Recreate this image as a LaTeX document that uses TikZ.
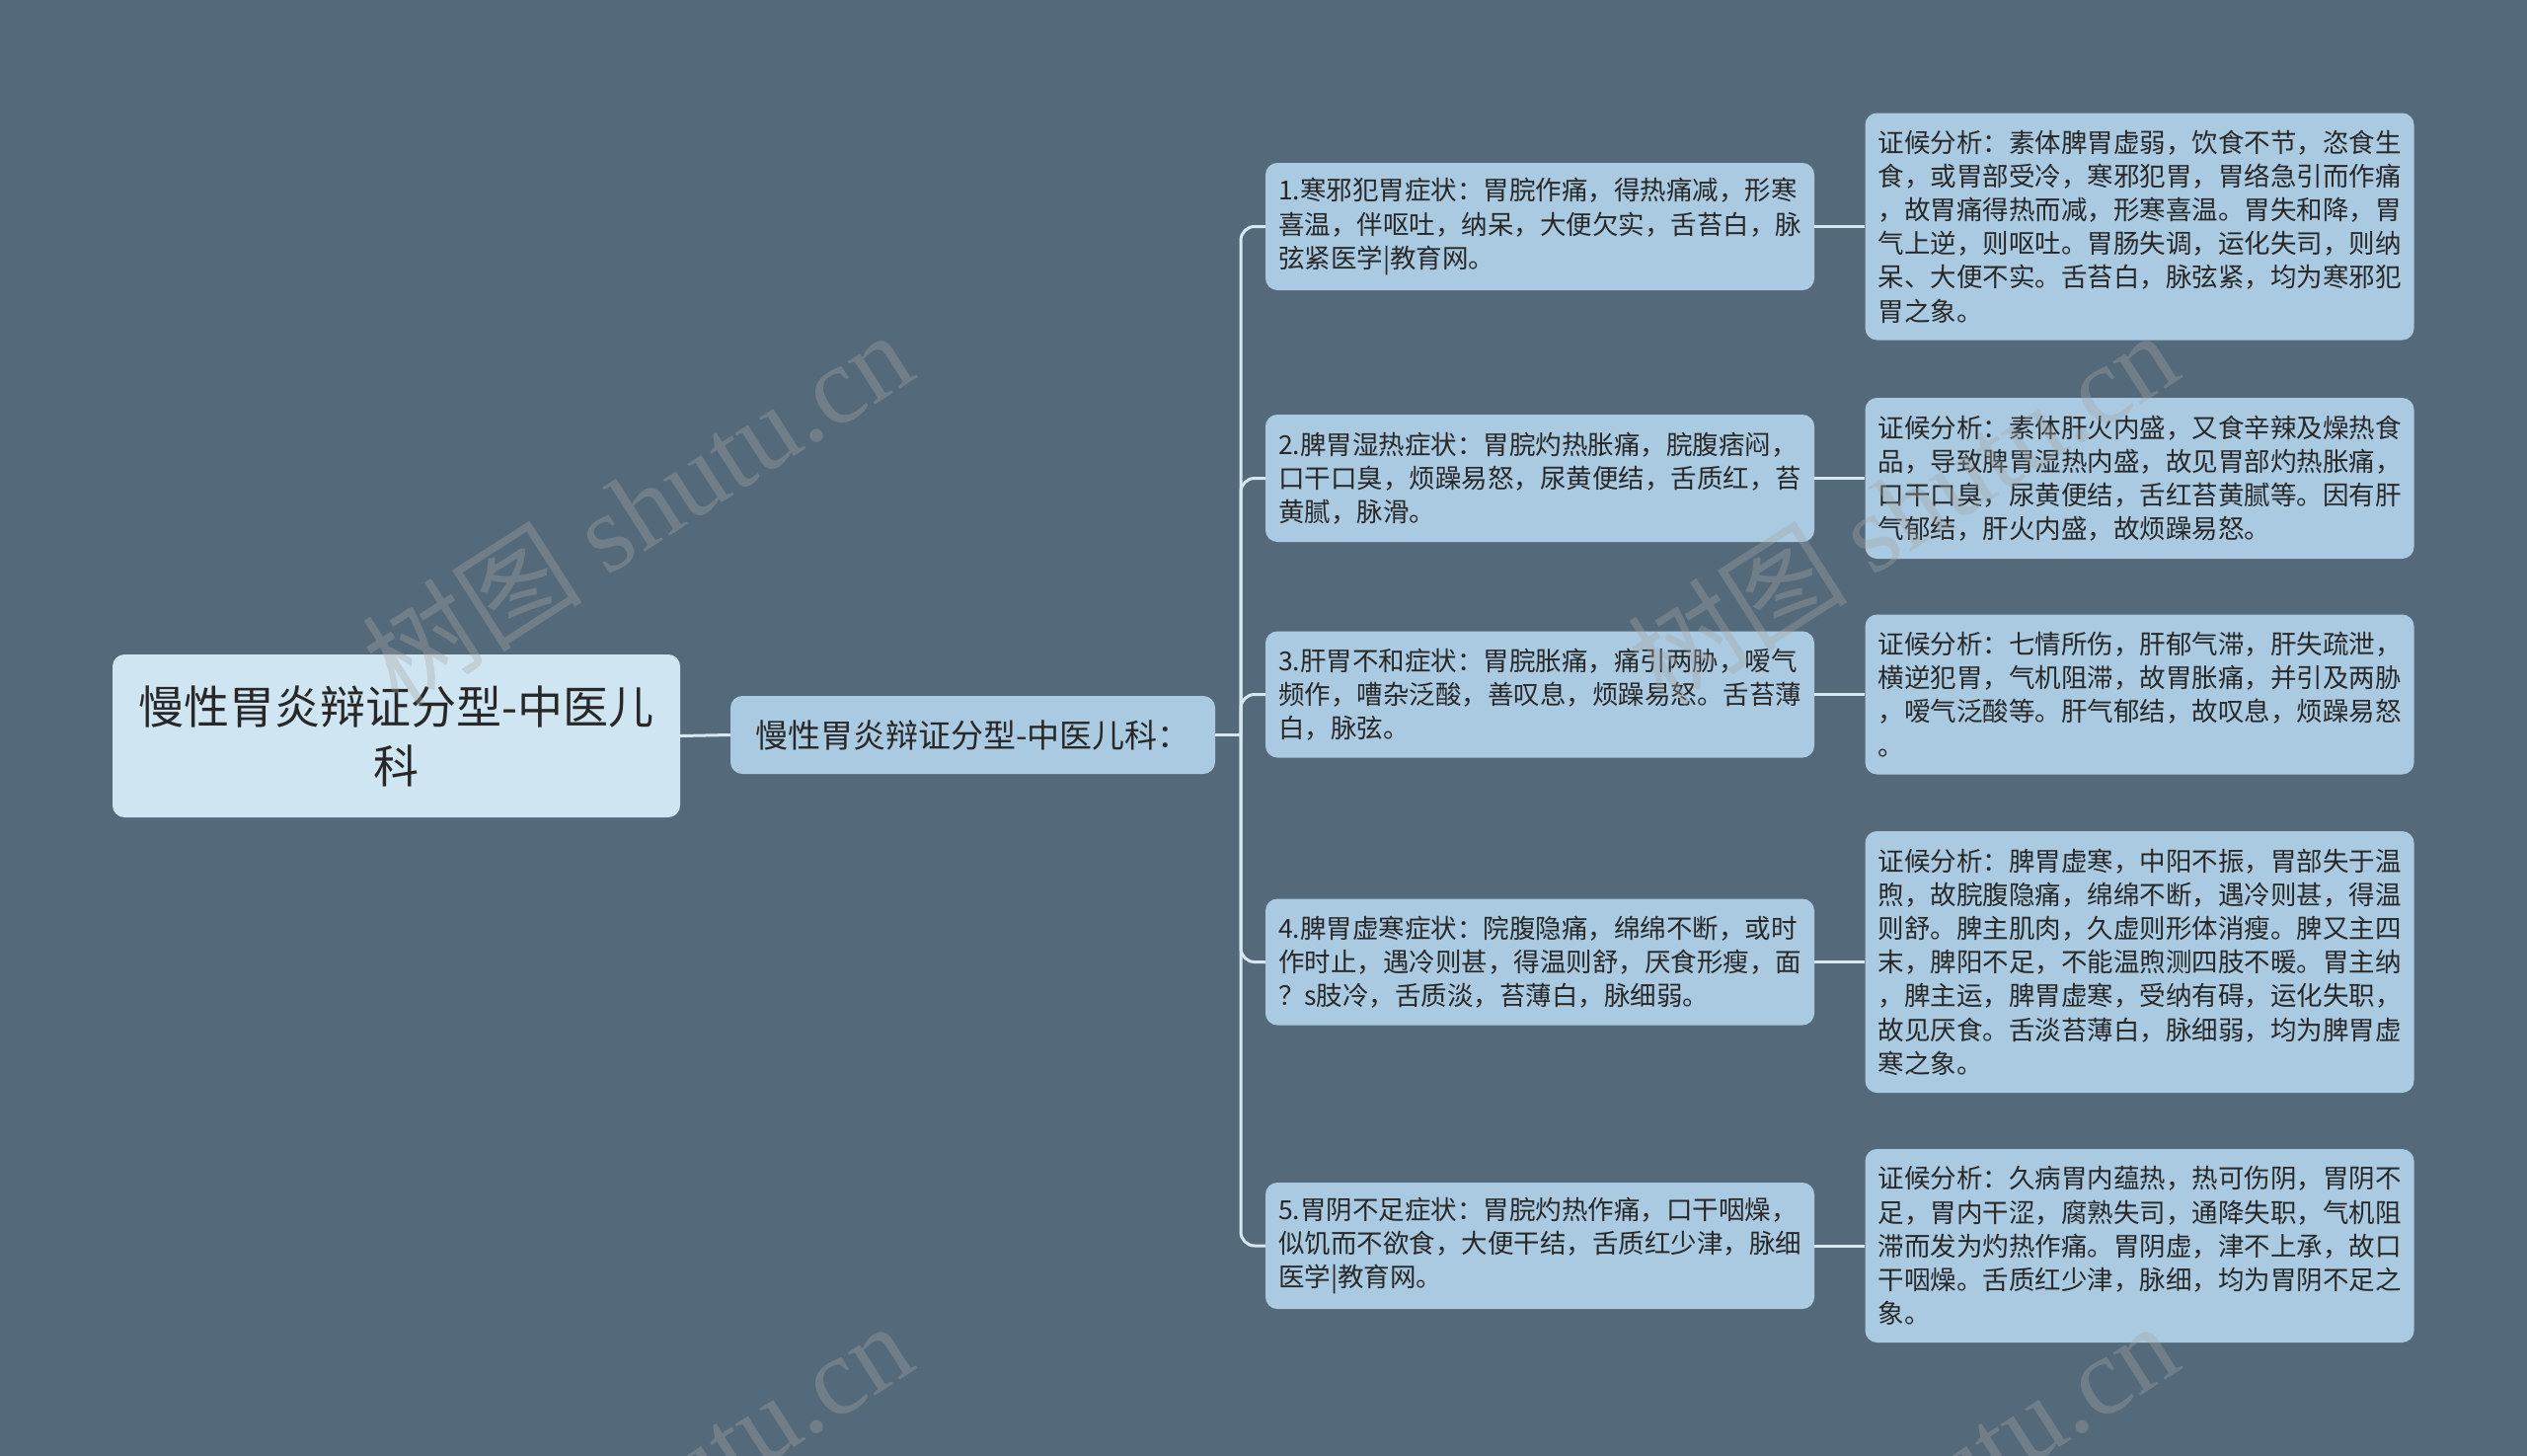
\documentclass[tikz,border=0pt]{standalone}
\usepackage{fontspec}
\setmainfont{Noto Sans CJK SC}
\newfontfamily\wmfont{Liberation Serif}
\definecolor{bgc}{RGB}{84,106,122}
\definecolor{rootfill}{RGB}{208,229,242}
\definecolor{boxfill}{RGB}{170,202,225}
\definecolor{linec}{RGB}{214,231,242}
\definecolor{textc}{RGB}{40,40,40}
\tikzset{
  box/.style={fill=boxfill, rounded corners=12pt, align=left, text=textc,
    font=\fontsize{26.5}{34.2}\selectfont, inner xsep=13pt, inner ysep=12pt,
    text width=530pt, anchor=center},
  conn/.style={draw=linec, line width=3pt},
  wm/.style={text=gray!70!white, text opacity=0.35, anchor=center,
    font=\fontsize{112}{112}\selectfont},
}
\begin{document}
\begin{tikzpicture}[x=1pt,y=-1pt]
\fill[bgc] (0,0) rectangle (2560,1475);
\useasboundingbox (0,0) rectangle (2560,1475);

% root and middle nodes
\node[fill=rootfill, rounded corners=12pt, align=center, text=textc,
  font=\fontsize{46}{60}\selectfont, text width=545pt, inner xsep=15pt,
  minimum height=165pt, anchor=center] (root) at (401.5,745.5)
  {慢性胃炎辩证分型-中医儿\\科};
\node[fill=boxfill, rounded corners=12pt, align=center, text=textc,
  font=\fontsize{33}{40}\selectfont, text width=461pt, inner xsep=15pt,
  minimum height=79pt, anchor=center] (mid) at (985.5,744.5)
  {慢性胃炎辩证分型-中医儿科：};

% level 3
\node[box, minimum height=129pt] (a1) at (1560,229.5)
  {1.寒邪犯胃症状：胃脘作痛，得热痛减，形寒\\喜温，伴呕吐，纳呆，大便欠实，舌苔白，脉\\弦紧医学|教育网。};
\node[box, minimum height=129pt] (a2) at (1560,484.5)
  {2.脾胃湿热症状：胃脘灼热胀痛，脘腹痞闷，\\口干口臭，烦躁易怒，尿黄便结，舌质红，苔\\黄腻，脉滑。};
\node[box, minimum height=128pt] (a3) at (1560,703.5)
  {3.肝胃不和症状：胃脘胀痛，痛引两胁，嗳气\\频作，嘈杂泛酸，善叹息，烦躁易怒。舌苔薄\\白，脉弦。};
\node[box, minimum height=128pt] (a4) at (1560,974.5)
  {4.脾胃虚寒症状：院腹隐痛，绵绵不断，或时\\作时止，遇冷则甚，得温则舒，厌食形瘦，面\\？s肢冷，舌质淡，苔薄白，脉细弱。};
\node[box, minimum height=128pt] (a5) at (1560,1262)
  {5.胃阴不足症状：胃脘灼热作痛，口干咽燥，\\似饥而不欲食，大便干结，舌质红少津，脉细\\医学|教育网。};

% level 4
\node[box, minimum height=230pt] (b1) at (2167.5,229.5)
  {证候分析：素体脾胃虚弱，饮食不节，恣食生\\食，或胃部受冷，寒邪犯胃，胃络急引而作痛\\，故胃痛得热而减，形寒喜温。胃失和降，胃\\气上逆，则呕吐。胃肠失调，运化失司，则纳\\呆、大便不实。舌苔白，脉弦紧，均为寒邪犯\\胃之象。};
\node[box, minimum height=163pt] (b2) at (2167.5,484.5)
  {证候分析：素体肝火内盛，又食辛辣及燥热食\\品，导致脾胃湿热内盛，故见胃部灼热胀痛，\\口干口臭，尿黄便结，舌红苔黄腻等。因有肝\\气郁结，肝火内盛，故烦躁易怒。};
\node[box, minimum height=162pt] (b3) at (2167.5,703.5)
  {证候分析：七情所伤，肝郁气滞，肝失疏泄，\\横逆犯胃，气机阻滞，故胃胀痛，并引及两胁\\，嗳气泛酸等。肝气郁结，故叹息，烦躁易怒\\。};
\node[box, minimum height=265pt] (b4) at (2167.5,974.5)
  {证候分析：脾胃虚寒，中阳不振，胃部失于温\\煦，故脘腹隐痛，绵绵不断，遇冷则甚，得温\\则舒。脾主肌肉，久虚则形体消瘦。脾又主四\\末，脾阳不足，不能温煦测四肢不暖。胃主纳\\，脾主运，脾胃虚寒，受纳有碍，运化失职，\\故见厌食。舌淡苔薄白，脉细弱，均为脾胃虚\\寒之象。};
\node[box, minimum height=196pt] (b5) at (2167.5,1262)
  {证候分析：久病胃内蕴热，热可伤阴，胃阴不\\足，胃内干涩，腐熟失司，通降失职，气机阻\\滞而发为灼热作痛。胃阴虚，津不上承，故口\\干咽燥。舌质红少津，脉细，均为胃阴不足之\\象。};

% connectors
\coordinate (bus) at (1257,744.5);
\draw[conn] (root.east) -- (mid.west);
\draw[conn] (mid.east) -- (bus);
\foreach \i in {1,...,5}{
  \draw[conn, rounded corners=14pt] (bus) |- (a\i.west);
  \draw[conn] (a\i.east) -- (b\i.west);
}

% watermarks
\begin{scope}
\clip (0,0) rectangle (2560,1475);
\node[wm, rotate=32.6] (w1) at (645,514) {树图 {\wmfont shutu.cn}};
\node[wm, rotate=32.6] (w2) at (1927,514) {树图 {\wmfont shutu.cn}};
\node[wm, rotate=32.6] (w3) at (645,1518) {树图 {\wmfont shutu.cn}};
\node[wm, rotate=32.6] (w4) at (1927,1518) {树图 {\wmfont shutu.cn}};
\end{scope}
\end{tikzpicture}
\end{document}
